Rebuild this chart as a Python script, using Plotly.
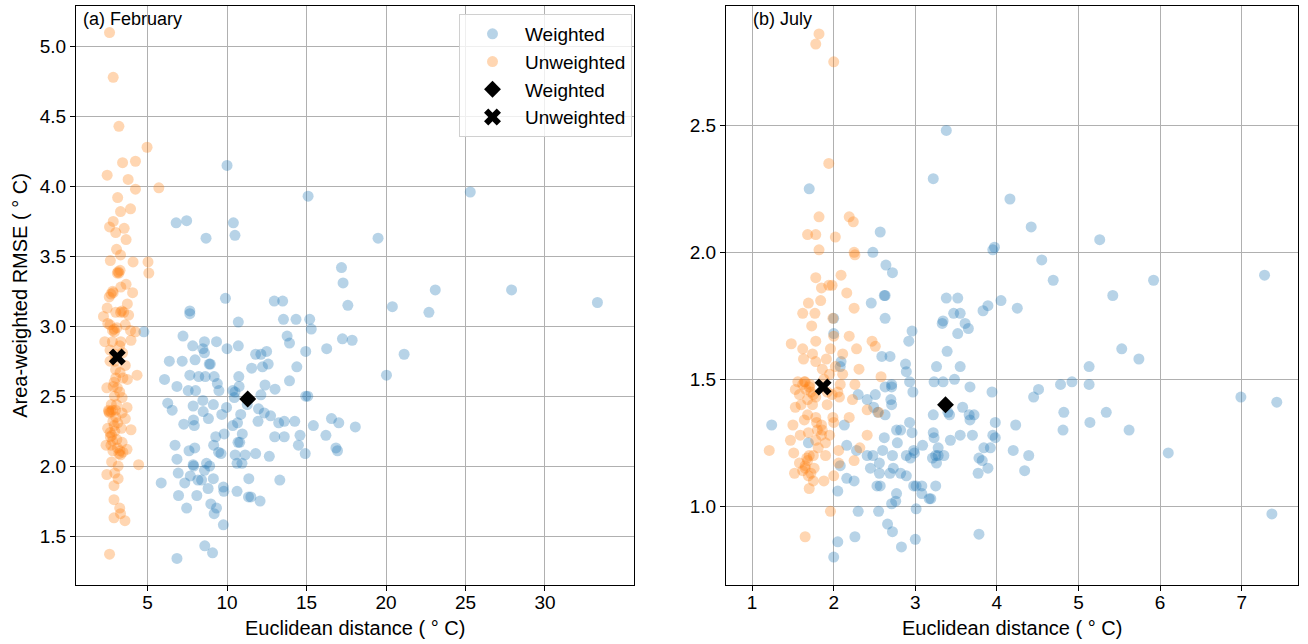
import plotly.graph_objects as go

# ---------------- (a) February ----------------
feb_w_x = [10.0, 15.1, 25.3, 6.8, 7.46, 10.4, 10.5, 8.68, 19.5, 17.2, 17.3, 27.9, 23.1, 17.6, 20.4, 33.3, 22.7,
           9.9, 12.97, 13.5, 7.66, 7.66, 13.55, 14.34, 15.2, 15.3, 10.71, 4.77, 7.23, 13.78, 13.93, 17.26, 17.87,
           7.84, 8.58, 9.34, 10.0, 10.71, 8.48, 8.58, 11.8, 12.13, 12.49, 14.95, 16.27, 21.14, 6.37, 7.18, 7.99,
           8.88, 8.95, 11.55, 12.23, 12.59, 14.39, 6.07, 7.66, 8.22, 8.63, 9.19, 10.74, 13.93, 20.03, 6.85, 7.56,
           8.02, 9.39, 9.49, 10.36, 10.5, 10.76, 12.39, 13.02, 12.13, 14.95, 15.08, 6.27, 6.55, 7.87, 8.48, 9.14,
           9.97, 10.46, 11.27, 11.98, 8.5, 7.28, 7.89, 7.94, 8.83, 9.67, 10.86, 10.66, 10.36, 11.95, 12.34, 12.74,
           13.25, 13.6, 14.26, 15.43, 16.57, 17.03, 18.07, 9.82, 9.29, 10.96, 10.69, 10.8, 13.0, 13.6, 14.59,
           16.22, 6.73, 7.61, 7.97, 9.16, 9.47, 9.62, 10.51, 11.14, 11.8, 12.66, 14.49, 14.92, 16.85, 16.95, 6.85,
           6.93, 7.34, 7.87, 7.9, 8.71, 8.91, 8.58, 7.69, 5.86, 8.17, 8.4, 9.14, 8.81, 9.77, 9.8, 10.63, 10.94,
           10.63, 11.37, 11.35, 11.5, 12.08, 13.32, 6.95, 8.1, 7.46, 8.98, 9.34, 9.19, 9.77, 8.6, 9.09, 6.85]
feb_w_y = [4.15, 3.93, 3.96, 3.74, 3.755, 3.74, 3.65, 3.63, 3.63, 3.42, 3.31, 3.26, 3.26, 3.15, 3.14, 3.17, 3.10,
           3.20, 3.18, 3.18, 3.11, 3.09, 3.05, 3.05, 3.05, 2.98, 3.03, 2.96, 2.93, 2.93, 2.88, 2.91, 2.90,
           2.86, 2.89, 2.89, 2.84, 2.86, 2.84, 2.81, 2.80, 2.80, 2.82, 2.82, 2.84, 2.80, 2.75, 2.75, 2.76,
           2.73, 2.73, 2.70, 2.71, 2.73, 2.71, 2.62, 2.65, 2.64, 2.64, 2.64, 2.64, 2.61, 2.65, 2.57, 2.54,
           2.54, 2.59, 2.54, 2.54, 2.53, 2.57, 2.58, 2.55, 2.51, 2.50, 2.50, 2.45, 2.40, 2.43, 2.47, 2.44,
           2.42, 2.49, 2.44, 2.41, 2.39, 2.30, 2.33, 2.29, 2.34, 2.37, 2.37, 2.31, 2.29, 2.32, 2.38, 2.36,
           2.31, 2.32, 2.32, 2.29, 2.34, 2.31, 2.28, 2.23, 2.21, 2.23, 2.17, 2.17, 2.21, 2.21, 2.22,
           2.22, 2.15, 2.11, 2.13, 2.15, 2.10, 2.09, 2.08, 2.08, 2.09, 2.07, 2.15, 2.09, 2.13, 2.11, 2.05,
           1.95, 1.88, 2.01, 2.00, 2.02, 2.00, 1.97, 1.93, 1.88, 1.90, 1.90, 1.91, 1.84, 1.85, 1.82, 2.02, 2.02,
           1.82, 1.91, 1.78, 1.78, 1.75, 1.90, 1.79, 1.79, 1.70, 1.73, 1.70, 1.66, 1.58, 1.43, 1.38, 1.34]

feb_u_x = [2.61, 2.84, 3.2, 4.97, 3.43, 4.24, 2.46, 3.78, 4.24, 5.71, 3.12, 3.93, 3.3, 2.84, 2.61, 3.53, 3.0,
           3.65, 3.05, 3.3, 2.66, 4.09, 5.03, 5.08, 3.27, 3.1, 3.65, 2.84, 2.59, 3.32, 4.06, 3.73, 3.38, 3.5,
           2.46, 2.23, 3.81, 3.6, 3.07, 2.64, 2.92, 3.93, 4.24, 2.31, 2.79, 3.96, 3.32, 2.64, 2.94, 3.43, 2.64,
           3.6, 4.34, 2.99, 3.27, 3.73, 3.45, 2.44, 2.84, 3.25, 2.92, 3.4, 2.72, 3.71, 2.56, 2.99, 3.4, 3.6,
           2.82, 3.12, 2.49, 3.96, 3.35, 2.94, 2.66, 3.07, 2.39, 3.4, 2.82, 3.27, 3.45, 3.71, 4.44, 2.74, 3.15,
           2.44, 2.94, 3.15, 2.89, 2.89, 3.25, 3.3, 2.89, 3.58, 2.61,
           2.7, 2.8, 2.6, 2.75, 2.65, 2.9, 3.0, 3.2, 3.3, 3.1, 2.8, 2.9, 3.0, 3.1, 2.8, 2.9, 3.0, 3.3, 2.7,
           2.8, 3.2, 3.15, 2.95, 3.05, 2.55, 2.7, 3.25, 2.5]
feb_u_y = [5.10, 4.78, 4.43, 4.28, 4.17, 4.18, 4.08, 4.05, 3.98, 3.99, 3.92, 3.84, 3.82, 3.75, 3.71, 3.70, 3.67,
           3.62, 3.55, 3.51, 3.47, 3.46, 3.46, 3.38, 3.40, 3.38, 3.30, 3.24, 3.21, 3.28, 3.24, 3.16, 3.11, 3.10,
           3.13, 3.07, 3.08, 3.01, 2.99, 3.01, 2.96, 2.97, 2.96, 2.89, 2.89, 2.90, 2.89, 2.83, 2.80, 2.81, 2.75,
           2.72, 2.65, 2.69, 2.67, 2.62, 2.63, 2.56, 2.57, 2.53, 2.50, 2.49, 2.44, 2.42, 2.39, 2.40, 2.38, 2.34,
           2.32, 2.31, 2.27, 2.26, 2.27, 2.25, 2.21, 2.19, 2.15, 2.17, 2.11, 2.11, 2.10, 2.12, 2.01, 2.03, 2.00,
           1.94, 1.95, 1.91, 1.86, 1.76, 1.70, 1.66, 1.63, 1.61, 1.37,
           2.39, 2.40, 2.38, 2.22, 2.24, 2.29, 2.35, 2.09, 2.08, 2.13, 2.18, 2.60, 2.63, 2.56, 2.97, 2.98, 3.10,
           3.10, 3.23, 3.25, 3.38, 3.39, 2.75, 2.44, 2.40, 2.15, 2.86, 3.02]

feb_mean_x = [11.3, 3.1]
feb_mean_y = [2.48, 2.78]

# ---------------- (b) July ----------------
jul_w_x = [3.38, 3.22, 1.70, 4.16, 4.42, 5.26, 3.97, 3.95, 2.57, 2.48, 2.64, 2.72, 4.55, 4.69, 5.92, 7.28, 5.42,
           2.62, 2.63, 2.46, 3.38, 3.52, 3.89, 4.05, 4.25, 3.83, 3.47, 3.55, 3.61, 3.65, 3.33, 3.34, 2.63, 2.0,
           3.52, 2.96, 2.92, 2.0, 3.39, 5.53, 5.74, 2.59, 2.69, 2.88, 2.89, 3.26, 3.55, 5.13, 2.93, 3.23, 3.34,
           3.48, 3.67, 2.71, 2.71, 2.63, 4.78, 4.92, 5.13, 4.51, 4.45, 3.94, 2.97, 2.51, 2.30, 2.41, 2.70, 2.71,
           2.49, 2.54, 2.63, 6.99, 7.43, 3.58, 3.40, 3.42, 3.66, 3.72, 3.67, 4.82, 5.34, 3.22, 2.93, 2.13, 1.24,
           3.98, 4.23, 5.14, 5.62, 4.81, 2.77, 2.82, 3.22, 2.96, 2.62, 3.23, 3.55, 3.70, 3.95, 3.98, 3.43, 1.69,
           2.16, 2.78, 3.09, 2.28, 2.60, 2.98, 3.28, 3.84, 3.92, 4.20, 6.10, 2.41, 2.48, 2.72, 2.89, 2.94, 2.99,
           3.25, 3.28, 3.35, 3.78, 3.82, 4.39, 2.08, 2.45, 2.56, 2.56, 2.73, 2.82, 2.69, 2.89, 3.21, 3.26, 3.89,
           3.77, 4.34, 2.16, 2.25, 2.53, 2.57, 2.98, 3.01, 3.08, 3.25, 2.05, 2.77, 3.08, 3.19, 2.71, 2.76, 3.17,
           2.30, 2.55, 3.01, 2.66, 2.72, 2.26, 3.78, 3.00, 2.05, 2.83, 2.00, 7.37, 2.09, 2.08]
jul_w_y = [2.48, 2.29, 2.25, 2.21, 2.10, 2.05, 2.02, 2.01, 2.08, 2.00, 1.95, 1.92, 1.97, 1.89, 1.89, 1.91, 1.83,
           1.83, 1.83, 1.80, 1.82, 1.82, 1.79, 1.81, 1.78, 1.77, 1.76, 1.76, 1.72, 1.70, 1.72, 1.73, 1.74, 1.74,
           1.68, 1.69, 1.65, 1.68, 1.61, 1.62, 1.58, 1.59, 1.59, 1.56, 1.53, 1.55, 1.55, 1.55, 1.49, 1.49, 1.49,
           1.50, 1.47, 1.48, 1.47, 1.47, 1.48, 1.49, 1.48, 1.46, 1.43, 1.45, 1.45, 1.44, 1.44, 1.42, 1.42, 1.40,
           1.39, 1.37, 1.36, 1.43, 1.41, 1.39, 1.37, 1.36, 1.36, 1.36, 1.34, 1.37, 1.37, 1.36, 1.33, 1.32, 1.32,
           1.33, 1.32, 1.33, 1.30, 1.30, 1.30, 1.30, 1.29, 1.29, 1.27, 1.27, 1.28, 1.28, 1.28, 1.27, 1.26, 1.25,
           1.24, 1.25, 1.24, 1.22, 1.22, 1.22, 1.23, 1.23, 1.23, 1.22, 1.21, 1.20, 1.20, 1.20, 1.20, 1.19, 1.21,
           1.20, 1.20, 1.20, 1.19, 1.18, 1.20, 1.16, 1.15, 1.17, 1.13, 1.15, 1.13, 1.13, 1.12, 1.19, 1.17, 1.15,
           1.13, 1.14, 1.11, 1.10, 1.08, 1.08, 1.08, 1.08, 1.08, 1.08, 1.06, 1.05, 1.05, 1.03, 1.01, 1.02, 1.03,
           0.98, 0.98, 0.99, 0.93, 0.90, 0.88, 0.89, 0.87, 0.86, 0.84, 0.80, 0.97, 1.57, 1.55]

jul_u_x = [1.82, 1.78, 2.0, 1.94, 1.82, 2.19, 2.24, 1.68, 1.78, 2.02, 1.82, 2.25, 2.26, 2.09, 1.78, 1.85, 1.94,
           1.98, 2.16, 1.69, 1.84, 2.25, 1.62, 1.77, 1.99, 1.73, 1.48, 1.78, 2.19, 2.47, 2.51, 2.0, 2.28, 1.62,
           1.74, 1.96, 2.11, 1.63, 1.78, 1.91, 2.31, 1.86, 1.95, 2.11, 2.58, 1.53, 1.56, 1.64, 1.71, 1.66, 1.78,
           2.08, 2.26, 1.98, 2.07, 1.53, 1.74, 1.92, 2.23, 2.55, 2.41, 2.19, 1.99, 1.68, 1.64, 1.50, 1.79, 1.86,
           2.0, 1.69, 1.85, 2.41, 1.47, 1.59, 1.78, 1.90, 2.32, 1.21, 1.51, 1.81, 2.06, 1.75, 1.90, 1.67, 1.58,
           2.06, 1.65, 1.76, 1.52, 1.69, 1.75, 1.88, 2.0, 2.25, 1.70, 1.65, 1.96, 1.65,
           1.65, 1.70, 1.75, 1.68, 1.72, 1.62, 1.80, 1.78, 1.70, 1.62, 1.68, 1.72, 1.85, 1.95, 2.05, 1.88, 1.60,
           2.02, 1.92, 1.58]
jul_u_y = [2.86, 2.82, 2.75, 2.35, 2.14, 2.14, 2.12, 2.07, 2.07, 2.06, 2.01, 2.00, 1.99, 1.91, 1.90, 1.86, 1.87,
           1.87, 1.84, 1.80, 1.81, 1.78, 1.76, 1.76, 1.74, 1.71, 1.64, 1.65, 1.67, 1.65, 1.63, 1.67, 1.62, 1.62,
           1.60, 1.62, 1.60, 1.58, 1.57, 1.58, 1.54, 1.54, 1.52, 1.52, 1.51, 1.46, 1.49, 1.49, 1.48, 1.46, 1.43,
           1.48, 1.48, 1.44, 1.43, 1.39, 1.40, 1.40, 1.42, 1.37, 1.38, 1.35, 1.35, 1.36, 1.34, 1.32, 1.33, 1.30,
           1.33, 1.29, 1.28, 1.28, 1.26, 1.28, 1.26, 1.25, 1.23, 1.22, 1.21, 1.23, 1.22, 1.20, 1.20, 1.19, 1.17,
           1.17, 1.16, 1.15, 1.13, 1.12, 1.10, 1.10, 1.12, 1.18, 1.07, 1.15, 0.98, 0.88,
           1.49, 1.47, 1.44, 1.42, 1.45, 1.48, 1.30, 1.35, 1.20, 1.14, 1.18, 1.13, 1.32, 1.28, 1.45, 1.50, 1.40,
           1.55, 1.45, 1.44]

jul_mean_x = [3.37, 1.87]
jul_mean_y = [1.40, 1.47]

labels = ["Weighted", "Unweighted"]
panel_titles = ["(a) February", "(b) July"]
x_title = "Euclidean distance ( ° C)"
y_title = "Area-weighted RMSE ( ° C)"

BLUE = "rgba(31,119,180,0.32)"
ORANGE = "rgba(255,127,14,0.32)"
FONT = "Liberation Sans, Arial, sans-serif"
MS = 11

fig = go.Figure()

panels = [
    (feb_w_x, feb_w_y, feb_u_x, feb_u_y, feb_mean_x, feb_mean_y, "x", "y", True),
    (jul_w_x, jul_w_y, jul_u_x, jul_u_y, jul_mean_x, jul_mean_y, "x2", "y2", False),
]
for wx, wy, ux, uy, mx, my, xa, ya, show in panels:
    fig.add_trace(go.Scatter(x=wx, y=wy, mode="markers", name=labels[0], xaxis=xa, yaxis=ya,
                             marker=dict(color=BLUE, size=MS, line=dict(width=0)), showlegend=show))
    fig.add_trace(go.Scatter(x=ux, y=uy, mode="markers", name=labels[1], xaxis=xa, yaxis=ya,
                             marker=dict(color=ORANGE, size=MS, line=dict(width=0)), showlegend=show))
    fig.add_trace(go.Scatter(x=[mx[0]], y=[my[0]], mode="markers", name=labels[0], xaxis=xa, yaxis=ya,
                             marker=dict(color="black", size=13, symbol="diamond", line=dict(width=0)),
                             showlegend=show))
    fig.add_trace(go.Scatter(x=[mx[1]], y=[my[1]], mode="markers", name=labels[1], xaxis=xa, yaxis=ya,
                             marker=dict(color="black", size=15, symbol="x", line=dict(width=0)),
                             showlegend=show))

# Body margin is removed below, so figure coordinates equal page coordinates.
W, H = 1308, 644
def dom_x(a, b):
    return [a / W, b / W]
def dom_y(top, bottom):
    return [(H - bottom) / H, (H - top) / H]
def py(page_y):
    return (H - page_y) / H
def px(page_x):
    return page_x / W

axis_common = dict(
    showline=True, linecolor="black", linewidth=1.2, mirror=True,
    ticks="outside", ticklen=5, tickwidth=1.2, tickcolor="black",
    showgrid=True, gridcolor="#b0b0b0", gridwidth=1, zeroline=False,
    tickfont=dict(family=FONT, size=19, color="black"),
    automargin=False,
)

fig.update_layout(
    width=W, height=H,
    margin=dict(l=0, r=0, t=0, b=0),
    paper_bgcolor="white", plot_bgcolor="white",
    font=dict(family=FONT, color="black"),
    xaxis=dict(domain=dom_x(76, 634), range=[0.5, 35.6], tickvals=[5, 10, 15, 20, 25, 30],
               ticklabelstandoff=-5, anchor="y", **axis_common),
    yaxis=dict(domain=dom_y(6, 585), range=[1.15, 5.29], tickvals=[1.5, 2.0, 2.5, 3.0, 3.5, 4.0, 4.5, 5.0],
               ticktext=["1.5", "2.0", "2.5", "3.0", "3.5", "4.0", "4.5", "5.0"],
               title=dict(text=y_title, font=dict(size=20), standoff=6), anchor="x", **axis_common),
    xaxis2=dict(domain=dom_x(726, 1298), range=[0.68, 7.69], tickvals=[1, 2, 3, 4, 5, 6, 7],
                ticklabelstandoff=-5, anchor="y2", **axis_common),
    yaxis2=dict(domain=dom_y(6, 585), range=[0.69, 2.97], tickvals=[1.0, 1.5, 2.0, 2.5],
                ticktext=["1.0", "1.5", "2.0", "2.5"], anchor="x2", **axis_common),
    legend=dict(x=px(632), y=py(14), xanchor="right", yanchor="top",
                bgcolor="rgba(255,255,255,0.8)", bordercolor="#d0d0d0", borderwidth=1,
                font=dict(family=FONT, size=19, color="black"), itemsizing="trace",
                itemwidth=55, tracegroupgap=0),
    showlegend=True,
)

# x-axis titles
for cx in [(76 + 634) / 2, (726 + 1298) / 2]:
    fig.add_annotation(text=x_title, xref="paper", yref="paper", x=px(cx), y=py(628),
                       xanchor="center", yanchor="middle", showarrow=False,
                       font=dict(family=FONT, size=20, color="black"))

fig.add_annotation(text=panel_titles[0], xref="paper", yref="paper", x=px(81), y=py(7),
                   xanchor="left", yanchor="top", showarrow=False,
                   font=dict(family=FONT, size=18, color="black"))
fig.add_annotation(text=panel_titles[1], xref="paper", yref="paper", x=px(751), y=py(7),
                   xanchor="left", yanchor="top", showarrow=False,
                   font=dict(family=FONT, size=18, color="black"))

fig.write_html("out.html", config={"displayModeBar": False},
               post_script="document.body.style.margin='0px';")
